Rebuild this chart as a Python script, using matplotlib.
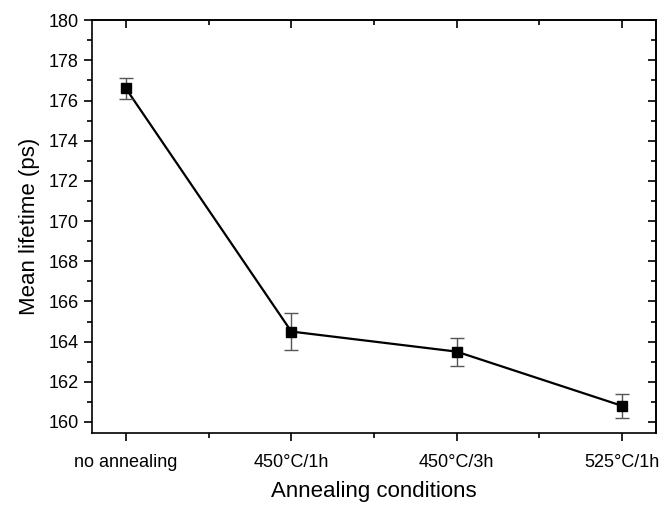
import matplotlib
matplotlib.use('Agg')
import matplotlib.pyplot as plt
from matplotlib.ticker import MultipleLocator, FixedLocator

plt.rcParams['font.family'] = ['Liberation Sans', 'DejaVu Sans']

# data
conditions = ['no annealing', '450°C/1h', '450°C/3h', '525°C/1h']
lifetime = [176.6, 164.5, 163.5, 160.8]
lifetime_err = [0.5, 0.9, 0.7, 0.6]

fig = plt.figure(figsize=(6.62, 5.05), dpi=100)
ax = fig.add_axes([0.139, 0.1426, 0.852, 0.8174])

x = list(range(len(conditions)))
ax.plot(x, lifetime, color='black', lw=1.6, zorder=2)
ax.errorbar(x, lifetime, yerr=lifetime_err, fmt='none', ecolor='#555555',
            elinewidth=1.0, capsize=5, capthick=1.0, zorder=3)
ax.plot(x, lifetime, 's', color='black', ms=7.5, zorder=4, linestyle='none')

ax.set_xlim(-0.205, 3.205)
ax.set_ylim(159.45, 180)
ax.set_xticks(x)
ax.set_xticklabels(conditions)
ax.xaxis.set_minor_locator(FixedLocator([0.5, 1.5, 2.5]))
ax.yaxis.set_major_locator(MultipleLocator(2))
ax.yaxis.set_minor_locator(MultipleLocator(1))

ax.tick_params(axis='both', which='major', direction='out', length=6, width=1.2,
               labelsize=13, colors='black')
ax.tick_params(axis='both', which='minor', direction='out', length=3.5, width=1.2)
ax.tick_params(axis='x', which='major', pad=9)

# mirrored ticks pointing inward on top and right
axt = ax.secondary_xaxis('top')
axt.set_xticks(x)
axt.set_xticklabels([])
axt.tick_params(direction='in', length=6, width=1.2)
axt.xaxis.set_minor_locator(FixedLocator([0.5, 1.5, 2.5]))
axt.tick_params(which='minor', direction='in', length=3.5, width=1.2)
axr = ax.secondary_yaxis('right')
axr.yaxis.set_major_locator(MultipleLocator(2))
axr.yaxis.set_minor_locator(MultipleLocator(1))
axr.set_yticklabels([])
axr.tick_params(which='major', direction='in', length=6, width=1.2)
axr.tick_params(which='minor', direction='in', length=3.5, width=1.2)

for s in ax.spines.values():
    s.set_linewidth(1.2)
axt.spines['top'].set_linewidth(1.2)
axr.spines['right'].set_linewidth(1.2)

ax.set_xlabel('Annealing conditions', fontsize=16, labelpad=7)
ax.set_ylabel('Mean lifetime (ps)', fontsize=16, labelpad=6)

fig.savefig('out.png', dpi=100)
